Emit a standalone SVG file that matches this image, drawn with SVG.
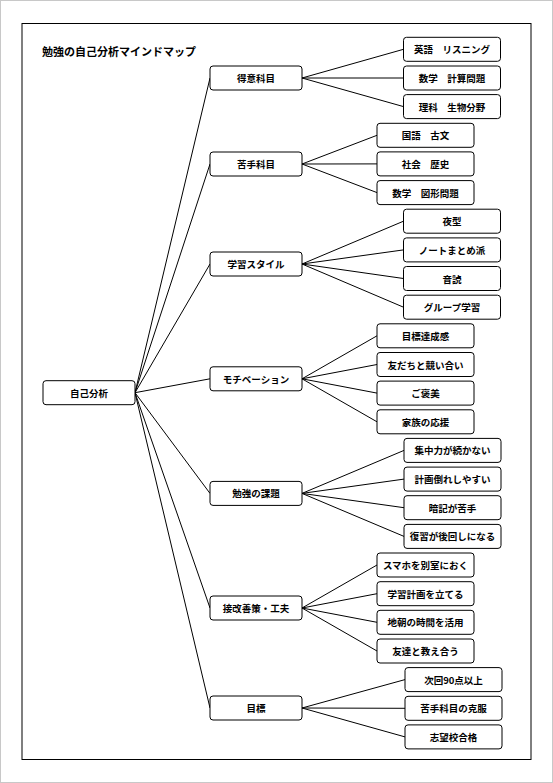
<svg xmlns="http://www.w3.org/2000/svg" width="553" height="783" viewBox="0 0 553 783">
<style>
.n rect{fill:#fff;stroke:#000;stroke-width:1}
.n text{font-family:"Noto Sans CJK JP","Liberation Serif",serif;font-size:9.5px;font-weight:bold;text-anchor:middle;dominant-baseline:central;fill:#000}
#connectors line{stroke:#000;stroke-width:1}
.title{font-family:"Noto Sans CJK JP","Liberation Serif",serif;font-size:11px;font-weight:bold;fill:#000}
</style>
<rect x="0" y="0" width="553" height="783" fill="#fff"/>
<rect x="0.5" y="0.5" width="552" height="782" fill="none" stroke="#c8c8c8"/>
<rect x="22" y="23.5" width="509" height="736" fill="none" stroke="#000"/>
<text class="title" x="42" y="51" dominant-baseline="central">勉強の自己分析マインドマップ</text>
<g id="connectors">
<line x1="135" y1="392.7" x2="210" y2="78"/>
<line x1="135" y1="392.7" x2="210" y2="164"/>
<line x1="135" y1="392.7" x2="210" y2="264"/>
<line x1="135" y1="392.7" x2="210" y2="378.8"/>
<line x1="135" y1="392.7" x2="210" y2="493.4"/>
<line x1="135" y1="392.7" x2="210" y2="608"/>
<line x1="135" y1="392.7" x2="210" y2="708"/>
<line x1="302" y1="78" x2="403.5" y2="49.3"/>
<line x1="302" y1="78" x2="403.5" y2="78"/>
<line x1="302" y1="78" x2="403.5" y2="106.6"/>
<line x1="302" y1="164" x2="377" y2="135.3"/>
<line x1="302" y1="164" x2="377" y2="163.9"/>
<line x1="302" y1="164" x2="377" y2="192.6"/>
<line x1="302" y1="264" x2="403.5" y2="221.2"/>
<line x1="302" y1="264" x2="403.5" y2="249.9"/>
<line x1="302" y1="264" x2="403.5" y2="278.5"/>
<line x1="302" y1="264" x2="403.5" y2="307.2"/>
<line x1="302" y1="378.8" x2="377" y2="335.8"/>
<line x1="302" y1="378.8" x2="377" y2="364.5"/>
<line x1="302" y1="378.8" x2="377" y2="393.1"/>
<line x1="302" y1="378.8" x2="377" y2="421.8"/>
<line x1="302" y1="493.4" x2="404" y2="450.4"/>
<line x1="302" y1="493.4" x2="404" y2="479.1"/>
<line x1="302" y1="493.4" x2="404" y2="507.7"/>
<line x1="302" y1="493.4" x2="404" y2="536.4"/>
<line x1="302" y1="608" x2="377" y2="565"/>
<line x1="302" y1="608" x2="377" y2="593.7"/>
<line x1="302" y1="608" x2="377" y2="622.3"/>
<line x1="302" y1="608" x2="377" y2="651"/>
<line x1="302" y1="708" x2="405" y2="679.6"/>
<line x1="302" y1="708" x2="405" y2="708.3"/>
<line x1="302" y1="708" x2="405" y2="736.9"/>
</g>
<g id="root" class="n"><rect x="43" y="380.7" width="92" height="24" rx="3"/><text x="89" y="392.7">自己分析</text></g>
<g id="b1" class="n"><rect x="210" y="66" width="92" height="24" rx="3"/><text x="256" y="78">得意科目</text></g>
<g id="b2" class="n"><rect x="210" y="152" width="92" height="24" rx="3"/><text x="256" y="164">苦手科目</text></g>
<g id="b3" class="n"><rect x="210" y="252" width="92" height="24" rx="3"/><text x="256" y="264">学習スタイル</text></g>
<g id="b4" class="n"><rect x="210" y="366.8" width="92" height="24" rx="3"/><text x="256" y="378.8">モチベーション</text></g>
<g id="b5" class="n"><rect x="210" y="481.4" width="92" height="24" rx="3"/><text x="256" y="493.4">勉強の課題</text></g>
<g id="b6" class="n"><rect x="210" y="596" width="92" height="24" rx="3"/><text x="256" y="608">接改善策・工夫</text></g>
<g id="b7" class="n"><rect x="210" y="696" width="92" height="24" rx="3"/><text x="256" y="708">目標</text></g>
<g id="c0" class="n"><rect x="403.5" y="37.3" width="97" height="24" rx="3"/><text x="452" y="49.3">英語　リスニング</text></g>
<g id="c1" class="n"><rect x="403.5" y="66" width="97" height="24" rx="3"/><text x="452" y="78">数学　計算問題</text></g>
<g id="c2" class="n"><rect x="403.5" y="94.6" width="97" height="24" rx="3"/><text x="452" y="106.6">理科　生物分野</text></g>
<g id="c3" class="n"><rect x="377" y="123.3" width="97" height="24" rx="3"/><text x="425.5" y="135.3">国語　古文</text></g>
<g id="c4" class="n"><rect x="377" y="151.9" width="97" height="24" rx="3"/><text x="425.5" y="163.9">社会　歴史</text></g>
<g id="c5" class="n"><rect x="377" y="180.6" width="97" height="24" rx="3"/><text x="425.5" y="192.6">数学　図形問題</text></g>
<g id="c6" class="n"><rect x="403.5" y="209.2" width="97" height="24" rx="3"/><text x="452" y="221.2">夜型</text></g>
<g id="c7" class="n"><rect x="403.5" y="237.9" width="97" height="24" rx="3"/><text x="452" y="249.9">ノートまとめ派</text></g>
<g id="c8" class="n"><rect x="403.5" y="266.5" width="97" height="24" rx="3"/><text x="452" y="278.5">音読</text></g>
<g id="c9" class="n"><rect x="403.5" y="295.2" width="97" height="24" rx="3"/><text x="452" y="307.2">グループ学習</text></g>
<g id="c10" class="n"><rect x="377" y="323.8" width="97" height="24" rx="3"/><text x="425.5" y="335.8">目標達成感</text></g>
<g id="c11" class="n"><rect x="377" y="352.5" width="97" height="24" rx="3"/><text x="425.5" y="364.5">友だちと競い合い</text></g>
<g id="c12" class="n"><rect x="377" y="381.1" width="97" height="24" rx="3"/><text x="425.5" y="393.1">ご褒美</text></g>
<g id="c13" class="n"><rect x="377" y="409.8" width="97" height="24" rx="3"/><text x="425.5" y="421.8">家族の応援</text></g>
<g id="c14" class="n"><rect x="404" y="438.4" width="97" height="24" rx="3"/><text x="452.5" y="450.4">集中力が続かない</text></g>
<g id="c15" class="n"><rect x="404" y="467.1" width="97" height="24" rx="3"/><text x="452.5" y="479.1">計画倒れしやすい</text></g>
<g id="c16" class="n"><rect x="404" y="495.7" width="97" height="24" rx="3"/><text x="452.5" y="507.7">暗記が苦手</text></g>
<g id="c17" class="n"><rect x="404" y="524.4" width="97" height="24" rx="3"/><text x="452.5" y="536.4">復習が後回しになる</text></g>
<g id="c18" class="n"><rect x="377" y="553" width="97" height="24" rx="3"/><text x="425.5" y="565">スマホを別室におく</text></g>
<g id="c19" class="n"><rect x="377" y="581.7" width="97" height="24" rx="3"/><text x="425.5" y="593.7">学習計画を立てる</text></g>
<g id="c20" class="n"><rect x="377" y="610.3" width="97" height="24" rx="3"/><text x="425.5" y="622.3">地朝の時間を活用</text></g>
<g id="c21" class="n"><rect x="377" y="639" width="97" height="24" rx="3"/><text x="425.5" y="651">友達と教え合う</text></g>
<g id="c22" class="n"><rect x="405" y="667.6" width="97" height="24" rx="3"/><text x="453.5" y="679.6">次回90点以上</text></g>
<g id="c23" class="n"><rect x="405" y="696.3" width="97" height="24" rx="3"/><text x="453.5" y="708.3">苦手科目の克服</text></g>
<g id="c24" class="n"><rect x="405" y="724.9" width="97" height="24" rx="3"/><text x="453.5" y="736.9">志望校合格</text></g>
</svg>
